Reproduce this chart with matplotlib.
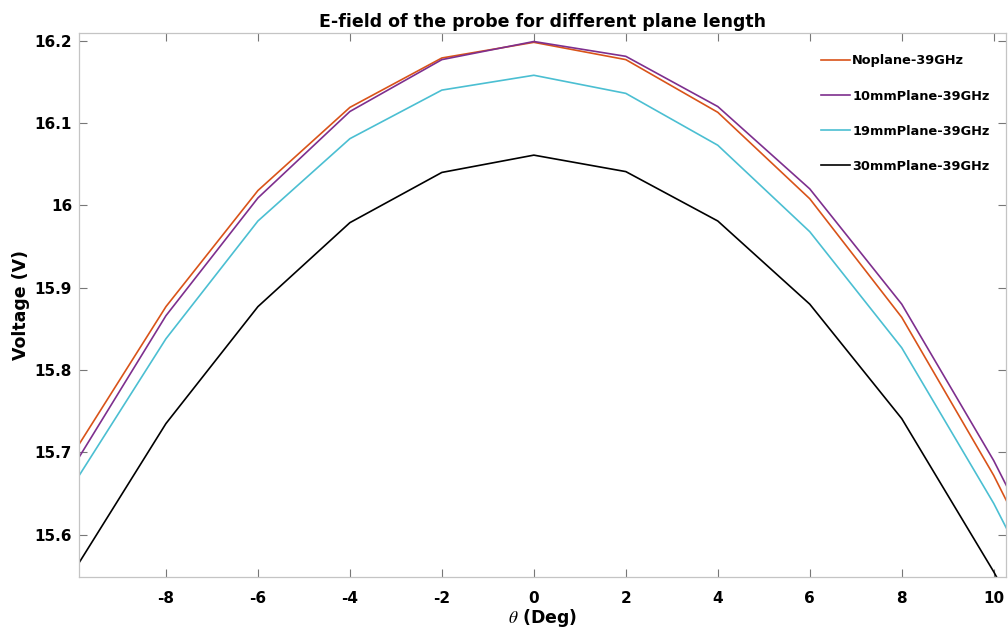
import matplotlib
matplotlib.use('Agg')
import matplotlib.pyplot as plt

plt.rcParams['font.family'] = ['DejaVu Sans']
plt.rcParams['mathtext.fontset'] = 'stix'

# angles (deg) and measured voltages per plane length
theta = [-12, -10, -8, -6, -4, -2, 0, 2, 4, 6, 8, 10, 12]
noplane = [15.49, 15.700, 15.877, 16.018, 16.119, 16.179, 16.198, 16.177, 16.113, 16.008, 15.864, 15.672, 15.45]
plane10 = [15.47, 15.684, 15.866, 16.009, 16.114, 16.177, 16.199, 16.181, 16.120, 16.020, 15.880, 15.690, 15.47]
plane19 = [15.45, 15.662, 15.838, 15.981, 16.081, 16.140, 16.158, 16.136, 16.073, 15.968, 15.827, 15.638, 15.42]
plane30 = [15.35, 15.556, 15.735, 15.877, 15.979, 16.040, 16.061, 16.041, 15.981, 15.880, 15.741, 15.555, 15.35]
labels = ['Noplane-39GHz', '10mmPlane-39GHz', '19mmPlane-39GHz', '30mmPlane-39GHz']
colors = ['#D95319', '#7E2F8E', '#4BBFD2', '#000000']

xticks = [-8, -6, -4, -2, 0, 2, 4, 6, 8, 10]
yticks = [15.6, 15.7, 15.8, 15.9, 16.0, 16.1, 16.2]
ytick_labels = ['15.6', '15.7', '15.8', '15.9', '16', '16.1', '16.2']

fig = plt.figure(figsize=(10.08, 6.35), dpi=100)
ax = fig.add_axes([0.0784, 0.0918, 0.9193, 0.8558])

for y, lab, c in zip([noplane, plane10, plane19, plane30], labels, colors):
    ax.plot(theta, y, color=c, lw=1.2, label=lab)

ax.set_xlim(-9.89, 10.26)
ax.set_ylim(15.549, 16.209)
ax.set_xticks(xticks)
ax.set_xticklabels([str(t) for t in xticks])
ax.set_yticks(yticks)
ax.set_yticklabels(ytick_labels)

for s in ax.spines.values():
    s.set_color('#c4c4c4')
    s.set_linewidth(0.9)
ax.tick_params(direction='in', top=True, right=True, length=6, width=0.8,
               color='#777777', labelsize=11, pad=5)
ax.tick_params(axis='x', pad=10)
for t in ax.get_xticklabels() + ax.get_yticklabels():
    t.set_fontweight('bold')

ax.set_xlabel(r'$\theta$ (Deg)', fontsize=12.5, fontweight='bold', labelpad=1)
ax.set_ylabel('Voltage (V)', fontsize=12.5, fontweight='bold', labelpad=3)
# title placed by hand, just above the axes box
fig.text(0.0784 + 0.9193 / 2, 1 - 27 / 635,
         'E-field of the probe for different plane length',
         ha='center', va='baseline', fontsize=12.5, fontweight='bold')

leg = ax.legend(loc='upper left', bbox_to_anchor=(815 / 1008, 1 - 48 / 635),
                bbox_transform=fig.transFigure, frameon=False, borderpad=0,
                handlelength=2.2, handletextpad=0.2, labelspacing=1.72,
                prop={'weight': 'bold', 'size': 9.25})

fig.savefig('out.png', dpi=100)
